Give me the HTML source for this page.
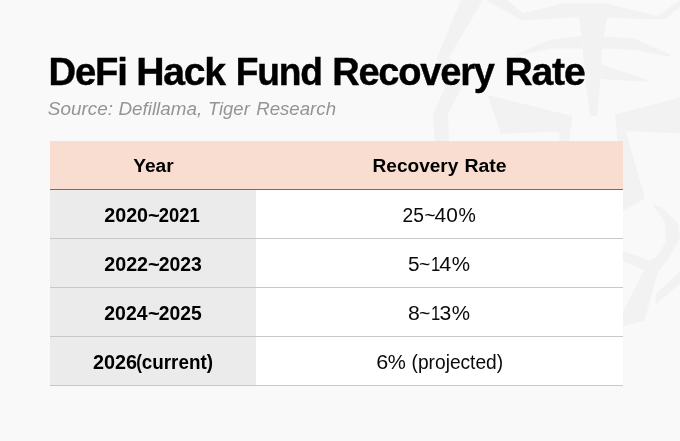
<!DOCTYPE html>
<html><head><meta charset="utf-8">
<style>
html,body{margin:0;padding:0;background:#f9f9f9;}
body{width:680px;height:441px;background:#f9f9f9;position:relative;overflow:hidden;font-family:"Liberation Sans",Arial,sans-serif;color:#0a0a0a;}
.t{position:absolute;left:0;white-space:nowrap;line-height:60px;}
.w{display:inline-block;transform-origin:0 0;}
.b{font-weight:bold;}
.i{font-style:italic;}
#wm{position:absolute;left:0;top:0;}
.bx{position:absolute;}
</style></head><body>
<svg id="wm" width="680" height="441" viewBox="0 0 680 441"><g fill="#f2f2f2">
<polygon points="461,0 483,0 449,57 462,87 448,114 449,141 434.5,141 433,114 445,88 437,58"/>
<polygon points="486,0 507,0 523,13 563,3.5 606,3.5 658,16 680,0 680,7 665,19 657,19.5 607,17.5 579,17 522,20.5"/>
<polygon points="579,17 607,17 603,40 601,70 600,85 597.5,111 596.5,116 590.5,116 589.5,111 586,85 584.5,70 582,40"/>
<polygon points="582,36 549,40 516,54.5 516,56 551,48.5 582,48.5"/>
<polygon points="603,36.5 634,38.5 670,54.5 670,57 636,50 603,48.5"/>
<polygon points="601,64.5 647,79.5 647,82 601,79"/>
<polygon points="487.3,95 572.2,116 569,141 559.5,141 559.3,131.5 501,133.7"/>
<polygon points="680,97.4 615,114.6 617.6,141 623,141 623,211 645,198.5 625.8,131 680,133.6"/>
<polygon points="651.8,204 661.5,207.5 678,223.5 680,238 669,257.5 658,272 646,268 649,261 656.5,257 666,242 665,222"/>
<polygon points="623,251 649,260.5 646,271 623,261.3"/>
<polygon points="645.5,268 658,271.5 644.5,320.5 623,326.6 623,312"/>
<polygon points="655.7,294 680,271.5 680,283.8 655.7,304.2"/>
</g></svg>
<div class="bx" style="left:50.3px;top:141px;width:572.7px;height:48px;background:#f9ddd1"></div>
<div class="bx" style="left:50.3px;top:189px;width:572.7px;height:1px;background:#7a6a64"></div>
<div class="bx" style="left:50.3px;top:190px;width:205.7px;height:196px;background:#ebebeb"></div>
<div class="bx" style="left:256px;top:190px;width:367px;height:196px;background:#ffffff"></div>
<div class="bx" style="left:50.3px;top:238px;width:572.7px;height:1px;background:#c8c8c8"></div>
<div class="bx" style="left:50.3px;top:287px;width:572.7px;height:1px;background:#c8c8c8"></div>
<div class="bx" style="left:50.3px;top:336px;width:572.7px;height:1px;background:#c8c8c8"></div>
<div class="bx" style="left:50.3px;top:385px;width:572.7px;height:1px;background:#c8c8c8"></div>
<div class="t b" style="top:42px;font-size:38.4px;color:#000;letter-spacing:-1.2px;-webkit-text-stroke:0.4px #000;"><span class="w" style="transform:translateX(48.56px) scaleX(0.9953)">DeFi</span> <span class="w" style="transform:translateX(48.13px) scaleX(1.0203)">Hack</span> <span class="w" style="transform:translateX(51.80px) scaleX(0.9673)">Fund</span> <span class="w" style="transform:translateX(49.16px) scaleX(0.9898)">Recovery</span> <span class="w" style="transform:translateX(48.44px) scaleX(1.0203)">Rate</span></div>
<div class="t i" style="top:79px;font-size:19.2px;color:#949494;"><span class="w" style="transform:translateX(47.81px) scaleX(0.9853)">Source:</span> <span class="w" style="transform:translateX(47.42px) scaleX(0.9818)">Defillama,</span> <span class="w" style="transform:translateX(45.88px) scaleX(0.9624)">Tiger</span> <span class="w" style="transform:translateX(45.18px) scaleX(0.9721)">Research</span></div>
<div class="t b" style="top:136px;font-size:19.2px;color:#000;"><span class="w" style="transform:translateX(133.20px) scaleX(0.9987)">Year</span></div>
<div class="t b" style="top:136px;font-size:19.2px;color:#000;"><span class="w" style="transform:translateX(372.56px) scaleX(0.9929)">Recovery</span> <span class="w" style="transform:translateX(372.38px) scaleX(1.0138)">Rate</span></div>
<div class="t b" style="top:185px;font-size:19.6px;color:#000;"><span class="w" style="transform:translateX(104.25px) scaleX(1.0048)">2020</span><span class="w" style="transform:translateX(104.03px) scaleX(1.0300)">~</span><span class="w" style="transform:translateX(103.75px) scaleX(0.9396)">2021</span></div>
<div class="t r" style="top:185px;font-size:19.6px;color:#0a0a0a;"><span class="w" style="transform:translateX(402.62px) scaleX(0.9800)">25</span><span class="w" style="transform:translateX(402.43px) scaleX(0.9684)">~</span><span class="w" style="transform:translateX(401.62px) scaleX(1.0634)">40</span><span class="w" style="transform:translateX(403.41px) scaleX(0.9938)">%</span></div>
<div class="t b" style="top:234px;font-size:19.6px;color:#000;"><span class="w" style="transform:translateX(104.25px) scaleX(1.0048)">2022</span><span class="w" style="transform:translateX(104.03px) scaleX(1.0300)">~</span><span class="w" style="transform:translateX(103.71px) scaleX(0.9905)">2023</span></div>
<div class="t r" style="top:234px;font-size:19.6px;color:#0a0a0a;"><span class="w" style="transform:translateX(408.01px) scaleX(1.0595)">5</span><span class="w" style="transform:translateX(408.10px) scaleX(0.9895)">~</span><span class="w" style="transform:translateX(408.95px) scaleX(0.8500)">1</span><span class="w" style="transform:translateX(406.18px) scaleX(1.1077)">4</span><span class="w" style="transform:translateX(407.64px) scaleX(1.0500)">%</span></div>
<div class="t b" style="top:283px;font-size:19.6px;color:#000;"><span class="w" style="transform:translateX(104.26px) scaleX(0.9918)">2024</span><span class="w" style="transform:translateX(104.03px) scaleX(1.0300)">~</span><span class="w" style="transform:translateX(103.71px) scaleX(0.9846)">2025</span></div>
<div class="t r" style="top:283px;font-size:19.6px;color:#0a0a0a;"><span class="w" style="transform:translateX(407.99px) scaleX(1.0811)">8</span><span class="w" style="transform:translateX(408.10px) scaleX(0.9895)">~</span><span class="w" style="transform:translateX(408.95px) scaleX(0.8500)">1</span><span class="w" style="transform:translateX(406.52px) scaleX(1.0811)">3</span><span class="w" style="transform:translateX(407.64px) scaleX(1.0500)">%</span></div>
<div class="t b" style="top:332px;font-size:19.6px;color:#000;"><span class="w" style="transform:translateX(92.99px) scaleX(1.0107)">2026</span><span class="w" style="transform:translateX(92.33px) scaleX(0.8727)">(</span><span class="w" style="transform:translateX(91.75px) scaleX(0.9619)">current)</span></div>
<div class="t r" style="top:332px;font-size:19.6px;color:#0a0a0a;"><span class="w" style="transform:translateX(376.20px) scaleX(1.1000)">6</span><span class="w" style="transform:translateX(376.82px) scaleX(1.0375)">%</span> <span class="w" style="transform:translateX(377.58px) scaleX(0.9775)">(projected)</span></div>
</body></html>
